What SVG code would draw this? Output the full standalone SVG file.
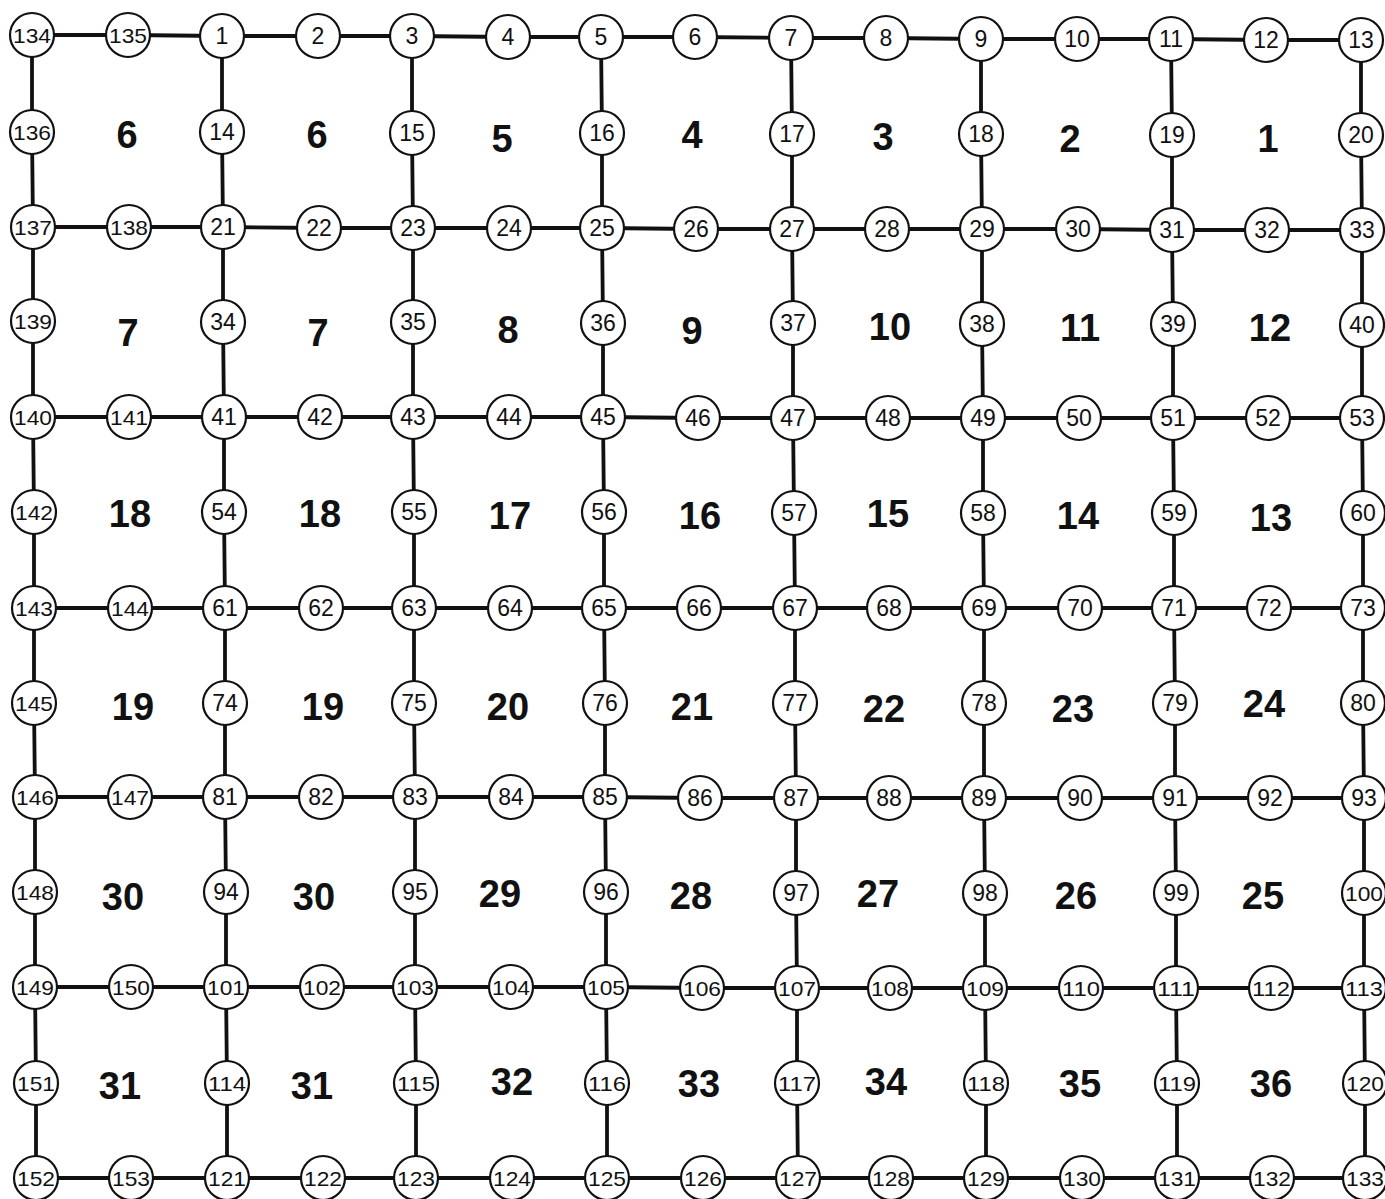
<svg xmlns="http://www.w3.org/2000/svg" width="1385" height="1199" viewBox="0 0 1385 1199">
<style>
.bg{fill:#fff}
.ln{fill:none;stroke:#111;stroke-width:3.8;stroke-linejoin:round}
.nd circle{fill:#fff;stroke:#111;stroke-width:2.2}
.nd text{font-family:"Liberation Sans",Arial,sans-serif;font-size:23px;fill:#111;text-anchor:middle}
.nd text.t3{font-size:21px}
.rg text{font-family:"Liberation Sans",Arial,sans-serif;font-weight:bold;font-size:38px;fill:#111;text-anchor:middle}
</style>
<rect class="bg" x="0" y="0" width="1385" height="1199"/>
<g id="connectors">
<polyline class="ln" points="32,35 128,35 222,36 318,36 412,36 508,37 601,37 695,37 791,38 886,38 981,39 1077,39 1171,39 1266,40 1361,40"/>
<polyline class="ln" points="33,227 129,227 223,227 319,228 413,228 509,228 602,228 696,229 792,229 887,229 982,229 1078,229 1172,230 1267,230 1362,230"/>
<polyline class="ln" points="33,417 129,417 224,417 320,417 413,417 509,417 603,417 698,418 793,418 888,418 983,418 1079,418 1173,418 1268,418 1362,418"/>
<polyline class="ln" points="34,608 130,608 225,608 321,608 414,608 510,608 604,608 699,608 795,608 889,608 984,608 1080,608 1174,608 1269,608 1363,608"/>
<polyline class="ln" points="35,797 130,797 225,797 321,797 415,797 511,797 605,797 700,798 796,798 889,798 984,798 1080,798 1175,798 1270,798 1364,798"/>
<polyline class="ln" points="35,987 131,987 226,987 322,987 415,987 511,987 606,987 702,988 797,988 890,988 985,988 1081,988 1176,988 1271,988 1364,988"/>
<polyline class="ln" points="36,1178 131,1178 227,1178 323,1178 416,1178 512,1178 607,1178 703,1178 798,1178 891,1178 986,1178 1082,1178 1177,1178 1272,1178 1365,1178"/>
<polyline class="ln" points="32,35 32,132 33,227 33,321 33,417 34,512 34,608 34,703 35,797 35,892 35,987 36,1083 36,1178"/>
<polyline class="ln" points="222,36 222,132 223,227 223,322 224,417 224,512 225,608 225,703 225,797 226,892 226,987 227,1083 227,1178"/>
<polyline class="ln" points="412,36 412,133 413,228 413,322 413,417 414,512 414,608 414,703 415,797 415,892 415,987 416,1083 416,1178"/>
<polyline class="ln" points="601,37 602,133 602,228 603,323 603,417 604,512 604,608 605,703 605,797 606,892 606,987 607,1083 607,1178"/>
<polyline class="ln" points="791,38 792,134 792,229 793,323 793,418 794,513 795,608 795,703 796,798 796,893 797,988 797,1083 798,1178"/>
<polyline class="ln" points="981,39 981,134 982,229 982,324 983,418 983,513 984,608 984,703 984,798 985,893 985,988 986,1083 986,1178"/>
<polyline class="ln" points="1171,39 1172,135 1172,230 1173,324 1173,418 1174,513 1174,608 1175,703 1175,798 1176,893 1176,988 1177,1083 1177,1178"/>
<polyline class="ln" points="1361,40 1361,135 1362,230 1362,325 1362,418 1363,513 1363,608 1363,703 1364,798 1364,893 1364,988 1365,1083 1365,1178"/>
</g>
<g class="nd">
<g id="n134"><circle cx="32" cy="35" r="22"/><text class="t3" x="32" y="42.5" textLength="38" lengthAdjust="spacingAndGlyphs">134</text></g>
<g id="n135"><circle cx="128" cy="35" r="22"/><text class="t3" x="128" y="42.5" textLength="38" lengthAdjust="spacingAndGlyphs">135</text></g>
<g id="n1"><circle cx="222" cy="36" r="22"/><text x="222" y="44">1</text></g>
<g id="n2"><circle cx="318" cy="36" r="22"/><text x="318" y="44">2</text></g>
<g id="n3"><circle cx="412" cy="36" r="22"/><text x="412" y="44">3</text></g>
<g id="n4"><circle cx="508" cy="37" r="22"/><text x="508" y="45">4</text></g>
<g id="n5"><circle cx="601" cy="37" r="22"/><text x="601" y="45">5</text></g>
<g id="n6"><circle cx="695" cy="37" r="22"/><text x="695" y="45">6</text></g>
<g id="n7"><circle cx="791" cy="38" r="22"/><text x="791" y="46">7</text></g>
<g id="n8"><circle cx="886" cy="38" r="22"/><text x="886" y="46">8</text></g>
<g id="n9"><circle cx="981" cy="39" r="22"/><text x="981" y="47">9</text></g>
<g id="n10"><circle cx="1077" cy="39" r="22"/><text x="1077" y="47">10</text></g>
<g id="n11"><circle cx="1171" cy="39" r="22"/><text x="1171" y="47">11</text></g>
<g id="n12"><circle cx="1266" cy="40" r="22"/><text x="1266" y="48">12</text></g>
<g id="n13"><circle cx="1361" cy="40" r="22"/><text x="1361" y="48">13</text></g>
<g id="n136"><circle cx="32" cy="132" r="22"/><text class="t3" x="32" y="139.5" textLength="38" lengthAdjust="spacingAndGlyphs">136</text></g>
<g id="n14"><circle cx="222" cy="132" r="22"/><text x="222" y="140">14</text></g>
<g id="n15"><circle cx="412" cy="133" r="22"/><text x="412" y="141">15</text></g>
<g id="n16"><circle cx="602" cy="133" r="22"/><text x="602" y="141">16</text></g>
<g id="n17"><circle cx="792" cy="134" r="22"/><text x="792" y="142">17</text></g>
<g id="n18"><circle cx="981" cy="134" r="22"/><text x="981" y="142">18</text></g>
<g id="n19"><circle cx="1172" cy="135" r="22"/><text x="1172" y="143">19</text></g>
<g id="n20"><circle cx="1361" cy="135" r="22"/><text x="1361" y="143">20</text></g>
<g id="n137"><circle cx="33" cy="227" r="22"/><text class="t3" x="33" y="234.5" textLength="38" lengthAdjust="spacingAndGlyphs">137</text></g>
<g id="n138"><circle cx="129" cy="227" r="22"/><text class="t3" x="129" y="234.5" textLength="38" lengthAdjust="spacingAndGlyphs">138</text></g>
<g id="n21"><circle cx="223" cy="227" r="22"/><text x="223" y="235">21</text></g>
<g id="n22"><circle cx="319" cy="228" r="22"/><text x="319" y="236">22</text></g>
<g id="n23"><circle cx="413" cy="228" r="22"/><text x="413" y="236">23</text></g>
<g id="n24"><circle cx="509" cy="228" r="22"/><text x="509" y="236">24</text></g>
<g id="n25"><circle cx="602" cy="228" r="22"/><text x="602" y="236">25</text></g>
<g id="n26"><circle cx="696" cy="229" r="22"/><text x="696" y="237">26</text></g>
<g id="n27"><circle cx="792" cy="229" r="22"/><text x="792" y="237">27</text></g>
<g id="n28"><circle cx="887" cy="229" r="22"/><text x="887" y="237">28</text></g>
<g id="n29"><circle cx="982" cy="229" r="22"/><text x="982" y="237">29</text></g>
<g id="n30"><circle cx="1078" cy="229" r="22"/><text x="1078" y="237">30</text></g>
<g id="n31"><circle cx="1172" cy="230" r="22"/><text x="1172" y="238">31</text></g>
<g id="n32"><circle cx="1267" cy="230" r="22"/><text x="1267" y="238">32</text></g>
<g id="n33"><circle cx="1362" cy="230" r="22"/><text x="1362" y="238">33</text></g>
<g id="n139"><circle cx="33" cy="321" r="22"/><text class="t3" x="33" y="328.5" textLength="38" lengthAdjust="spacingAndGlyphs">139</text></g>
<g id="n34"><circle cx="223" cy="322" r="22"/><text x="223" y="330">34</text></g>
<g id="n35"><circle cx="413" cy="322" r="22"/><text x="413" y="330">35</text></g>
<g id="n36"><circle cx="603" cy="323" r="22"/><text x="603" y="331">36</text></g>
<g id="n37"><circle cx="793" cy="323" r="22"/><text x="793" y="331">37</text></g>
<g id="n38"><circle cx="982" cy="324" r="22"/><text x="982" y="332">38</text></g>
<g id="n39"><circle cx="1173" cy="324" r="22"/><text x="1173" y="332">39</text></g>
<g id="n40"><circle cx="1362" cy="325" r="22"/><text x="1362" y="333">40</text></g>
<g id="n140"><circle cx="33" cy="417" r="22"/><text class="t3" x="33" y="424.5" textLength="38" lengthAdjust="spacingAndGlyphs">140</text></g>
<g id="n141"><circle cx="129" cy="417" r="22"/><text class="t3" x="129" y="424.5" textLength="38" lengthAdjust="spacingAndGlyphs">141</text></g>
<g id="n41"><circle cx="224" cy="417" r="22"/><text x="224" y="425">41</text></g>
<g id="n42"><circle cx="320" cy="417" r="22"/><text x="320" y="425">42</text></g>
<g id="n43"><circle cx="413" cy="417" r="22"/><text x="413" y="425">43</text></g>
<g id="n44"><circle cx="509" cy="417" r="22"/><text x="509" y="425">44</text></g>
<g id="n45"><circle cx="603" cy="417" r="22"/><text x="603" y="425">45</text></g>
<g id="n46"><circle cx="698" cy="418" r="22"/><text x="698" y="426">46</text></g>
<g id="n47"><circle cx="793" cy="418" r="22"/><text x="793" y="426">47</text></g>
<g id="n48"><circle cx="888" cy="418" r="22"/><text x="888" y="426">48</text></g>
<g id="n49"><circle cx="983" cy="418" r="22"/><text x="983" y="426">49</text></g>
<g id="n50"><circle cx="1079" cy="418" r="22"/><text x="1079" y="426">50</text></g>
<g id="n51"><circle cx="1173" cy="418" r="22"/><text x="1173" y="426">51</text></g>
<g id="n52"><circle cx="1268" cy="418" r="22"/><text x="1268" y="426">52</text></g>
<g id="n53"><circle cx="1362" cy="418" r="22"/><text x="1362" y="426">53</text></g>
<g id="n142"><circle cx="34" cy="512" r="22"/><text class="t3" x="34" y="519.5" textLength="38" lengthAdjust="spacingAndGlyphs">142</text></g>
<g id="n54"><circle cx="224" cy="512" r="22"/><text x="224" y="520">54</text></g>
<g id="n55"><circle cx="414" cy="512" r="22"/><text x="414" y="520">55</text></g>
<g id="n56"><circle cx="604" cy="512" r="22"/><text x="604" y="520">56</text></g>
<g id="n57"><circle cx="794" cy="513" r="22"/><text x="794" y="521">57</text></g>
<g id="n58"><circle cx="983" cy="513" r="22"/><text x="983" y="521">58</text></g>
<g id="n59"><circle cx="1174" cy="513" r="22"/><text x="1174" y="521">59</text></g>
<g id="n60"><circle cx="1363" cy="513" r="22"/><text x="1363" y="521">60</text></g>
<g id="n143"><circle cx="34" cy="608" r="22"/><text class="t3" x="34" y="615.5" textLength="38" lengthAdjust="spacingAndGlyphs">143</text></g>
<g id="n144"><circle cx="130" cy="608" r="22"/><text class="t3" x="130" y="615.5" textLength="38" lengthAdjust="spacingAndGlyphs">144</text></g>
<g id="n61"><circle cx="225" cy="608" r="22"/><text x="225" y="616">61</text></g>
<g id="n62"><circle cx="321" cy="608" r="22"/><text x="321" y="616">62</text></g>
<g id="n63"><circle cx="414" cy="608" r="22"/><text x="414" y="616">63</text></g>
<g id="n64"><circle cx="510" cy="608" r="22"/><text x="510" y="616">64</text></g>
<g id="n65"><circle cx="604" cy="608" r="22"/><text x="604" y="616">65</text></g>
<g id="n66"><circle cx="699" cy="608" r="22"/><text x="699" y="616">66</text></g>
<g id="n67"><circle cx="795" cy="608" r="22"/><text x="795" y="616">67</text></g>
<g id="n68"><circle cx="889" cy="608" r="22"/><text x="889" y="616">68</text></g>
<g id="n69"><circle cx="984" cy="608" r="22"/><text x="984" y="616">69</text></g>
<g id="n70"><circle cx="1080" cy="608" r="22"/><text x="1080" y="616">70</text></g>
<g id="n71"><circle cx="1174" cy="608" r="22"/><text x="1174" y="616">71</text></g>
<g id="n72"><circle cx="1269" cy="608" r="22"/><text x="1269" y="616">72</text></g>
<g id="n73"><circle cx="1363" cy="608" r="22"/><text x="1363" y="616">73</text></g>
<g id="n145"><circle cx="34" cy="703" r="22"/><text class="t3" x="34" y="710.5" textLength="38" lengthAdjust="spacingAndGlyphs">145</text></g>
<g id="n74"><circle cx="225" cy="703" r="22"/><text x="225" y="711">74</text></g>
<g id="n75"><circle cx="414" cy="703" r="22"/><text x="414" y="711">75</text></g>
<g id="n76"><circle cx="605" cy="703" r="22"/><text x="605" y="711">76</text></g>
<g id="n77"><circle cx="795" cy="703" r="22"/><text x="795" y="711">77</text></g>
<g id="n78"><circle cx="984" cy="703" r="22"/><text x="984" y="711">78</text></g>
<g id="n79"><circle cx="1175" cy="703" r="22"/><text x="1175" y="711">79</text></g>
<g id="n80"><circle cx="1363" cy="703" r="22"/><text x="1363" y="711">80</text></g>
<g id="n146"><circle cx="35" cy="797" r="22"/><text class="t3" x="35" y="804.5" textLength="38" lengthAdjust="spacingAndGlyphs">146</text></g>
<g id="n147"><circle cx="130" cy="797" r="22"/><text class="t3" x="130" y="804.5" textLength="38" lengthAdjust="spacingAndGlyphs">147</text></g>
<g id="n81"><circle cx="225" cy="797" r="22"/><text x="225" y="805">81</text></g>
<g id="n82"><circle cx="321" cy="797" r="22"/><text x="321" y="805">82</text></g>
<g id="n83"><circle cx="415" cy="797" r="22"/><text x="415" y="805">83</text></g>
<g id="n84"><circle cx="511" cy="797" r="22"/><text x="511" y="805">84</text></g>
<g id="n85"><circle cx="605" cy="797" r="22"/><text x="605" y="805">85</text></g>
<g id="n86"><circle cx="700" cy="798" r="22"/><text x="700" y="806">86</text></g>
<g id="n87"><circle cx="796" cy="798" r="22"/><text x="796" y="806">87</text></g>
<g id="n88"><circle cx="889" cy="798" r="22"/><text x="889" y="806">88</text></g>
<g id="n89"><circle cx="984" cy="798" r="22"/><text x="984" y="806">89</text></g>
<g id="n90"><circle cx="1080" cy="798" r="22"/><text x="1080" y="806">90</text></g>
<g id="n91"><circle cx="1175" cy="798" r="22"/><text x="1175" y="806">91</text></g>
<g id="n92"><circle cx="1270" cy="798" r="22"/><text x="1270" y="806">92</text></g>
<g id="n93"><circle cx="1364" cy="798" r="22"/><text x="1364" y="806">93</text></g>
<g id="n148"><circle cx="35" cy="892" r="22"/><text class="t3" x="35" y="899.5" textLength="38" lengthAdjust="spacingAndGlyphs">148</text></g>
<g id="n94"><circle cx="226" cy="892" r="22"/><text x="226" y="900">94</text></g>
<g id="n95"><circle cx="415" cy="892" r="22"/><text x="415" y="900">95</text></g>
<g id="n96"><circle cx="606" cy="892" r="22"/><text x="606" y="900">96</text></g>
<g id="n97"><circle cx="796" cy="893" r="22"/><text x="796" y="901">97</text></g>
<g id="n98"><circle cx="985" cy="893" r="22"/><text x="985" y="901">98</text></g>
<g id="n99"><circle cx="1176" cy="893" r="22"/><text x="1176" y="901">99</text></g>
<g id="n100"><circle cx="1364" cy="893" r="22"/><text class="t3" x="1364" y="900.5" textLength="38" lengthAdjust="spacingAndGlyphs">100</text></g>
<g id="n149"><circle cx="35" cy="987" r="22"/><text class="t3" x="35" y="994.5" textLength="38" lengthAdjust="spacingAndGlyphs">149</text></g>
<g id="n150"><circle cx="131" cy="987" r="22"/><text class="t3" x="131" y="994.5" textLength="38" lengthAdjust="spacingAndGlyphs">150</text></g>
<g id="n101"><circle cx="226" cy="987" r="22"/><text class="t3" x="226" y="994.5" textLength="38" lengthAdjust="spacingAndGlyphs">101</text></g>
<g id="n102"><circle cx="322" cy="987" r="22"/><text class="t3" x="322" y="994.5" textLength="38" lengthAdjust="spacingAndGlyphs">102</text></g>
<g id="n103"><circle cx="415" cy="987" r="22"/><text class="t3" x="415" y="994.5" textLength="38" lengthAdjust="spacingAndGlyphs">103</text></g>
<g id="n104"><circle cx="511" cy="987" r="22"/><text class="t3" x="511" y="994.5" textLength="38" lengthAdjust="spacingAndGlyphs">104</text></g>
<g id="n105"><circle cx="606" cy="987" r="22"/><text class="t3" x="606" y="994.5" textLength="38" lengthAdjust="spacingAndGlyphs">105</text></g>
<g id="n106"><circle cx="702" cy="988" r="22"/><text class="t3" x="702" y="995.5" textLength="38" lengthAdjust="spacingAndGlyphs">106</text></g>
<g id="n107"><circle cx="797" cy="988" r="22"/><text class="t3" x="797" y="995.5" textLength="38" lengthAdjust="spacingAndGlyphs">107</text></g>
<g id="n108"><circle cx="890" cy="988" r="22"/><text class="t3" x="890" y="995.5" textLength="38" lengthAdjust="spacingAndGlyphs">108</text></g>
<g id="n109"><circle cx="985" cy="988" r="22"/><text class="t3" x="985" y="995.5" textLength="38" lengthAdjust="spacingAndGlyphs">109</text></g>
<g id="n110"><circle cx="1081" cy="988" r="22"/><text class="t3" x="1081" y="995.5" textLength="38" lengthAdjust="spacingAndGlyphs">110</text></g>
<g id="n111"><circle cx="1176" cy="988" r="22"/><text class="t3" x="1176" y="995.5" textLength="38" lengthAdjust="spacingAndGlyphs">111</text></g>
<g id="n112"><circle cx="1271" cy="988" r="22"/><text class="t3" x="1271" y="995.5" textLength="38" lengthAdjust="spacingAndGlyphs">112</text></g>
<g id="n113"><circle cx="1364" cy="988" r="22"/><text class="t3" x="1364" y="995.5" textLength="38" lengthAdjust="spacingAndGlyphs">113</text></g>
<g id="n151"><circle cx="36" cy="1083" r="22"/><text class="t3" x="36" y="1090.5" textLength="38" lengthAdjust="spacingAndGlyphs">151</text></g>
<g id="n114"><circle cx="227" cy="1083" r="22"/><text class="t3" x="227" y="1090.5" textLength="38" lengthAdjust="spacingAndGlyphs">114</text></g>
<g id="n115"><circle cx="416" cy="1083" r="22"/><text class="t3" x="416" y="1090.5" textLength="38" lengthAdjust="spacingAndGlyphs">115</text></g>
<g id="n116"><circle cx="607" cy="1083" r="22"/><text class="t3" x="607" y="1090.5" textLength="38" lengthAdjust="spacingAndGlyphs">116</text></g>
<g id="n117"><circle cx="797" cy="1083" r="22"/><text class="t3" x="797" y="1090.5" textLength="38" lengthAdjust="spacingAndGlyphs">117</text></g>
<g id="n118"><circle cx="986" cy="1083" r="22"/><text class="t3" x="986" y="1090.5" textLength="38" lengthAdjust="spacingAndGlyphs">118</text></g>
<g id="n119"><circle cx="1177" cy="1083" r="22"/><text class="t3" x="1177" y="1090.5" textLength="38" lengthAdjust="spacingAndGlyphs">119</text></g>
<g id="n120"><circle cx="1365" cy="1083" r="22"/><text class="t3" x="1365" y="1090.5" textLength="38" lengthAdjust="spacingAndGlyphs">120</text></g>
<g id="n152"><circle cx="36" cy="1178" r="22"/><text class="t3" x="36" y="1185.5" textLength="38" lengthAdjust="spacingAndGlyphs">152</text></g>
<g id="n153"><circle cx="131" cy="1178" r="22"/><text class="t3" x="131" y="1185.5" textLength="38" lengthAdjust="spacingAndGlyphs">153</text></g>
<g id="n121"><circle cx="227" cy="1178" r="22"/><text class="t3" x="227" y="1185.5" textLength="38" lengthAdjust="spacingAndGlyphs">121</text></g>
<g id="n122"><circle cx="323" cy="1178" r="22"/><text class="t3" x="323" y="1185.5" textLength="38" lengthAdjust="spacingAndGlyphs">122</text></g>
<g id="n123"><circle cx="416" cy="1178" r="22"/><text class="t3" x="416" y="1185.5" textLength="38" lengthAdjust="spacingAndGlyphs">123</text></g>
<g id="n124"><circle cx="512" cy="1178" r="22"/><text class="t3" x="512" y="1185.5" textLength="38" lengthAdjust="spacingAndGlyphs">124</text></g>
<g id="n125"><circle cx="607" cy="1178" r="22"/><text class="t3" x="607" y="1185.5" textLength="38" lengthAdjust="spacingAndGlyphs">125</text></g>
<g id="n126"><circle cx="703" cy="1178" r="22"/><text class="t3" x="703" y="1185.5" textLength="38" lengthAdjust="spacingAndGlyphs">126</text></g>
<g id="n127"><circle cx="798" cy="1178" r="22"/><text class="t3" x="798" y="1185.5" textLength="38" lengthAdjust="spacingAndGlyphs">127</text></g>
<g id="n128"><circle cx="891" cy="1178" r="22"/><text class="t3" x="891" y="1185.5" textLength="38" lengthAdjust="spacingAndGlyphs">128</text></g>
<g id="n129"><circle cx="986" cy="1178" r="22"/><text class="t3" x="986" y="1185.5" textLength="38" lengthAdjust="spacingAndGlyphs">129</text></g>
<g id="n130"><circle cx="1082" cy="1178" r="22"/><text class="t3" x="1082" y="1185.5" textLength="38" lengthAdjust="spacingAndGlyphs">130</text></g>
<g id="n131"><circle cx="1177" cy="1178" r="22"/><text class="t3" x="1177" y="1185.5" textLength="38" lengthAdjust="spacingAndGlyphs">131</text></g>
<g id="n132"><circle cx="1272" cy="1178" r="22"/><text class="t3" x="1272" y="1185.5" textLength="38" lengthAdjust="spacingAndGlyphs">132</text></g>
<g id="n133"><circle cx="1365" cy="1178" r="22"/><text class="t3" x="1365" y="1185.5" textLength="38" lengthAdjust="spacingAndGlyphs">133</text></g>
</g>
<g class="rg" id="regions">
<text x="127" y="148">6</text><text x="317" y="148">6</text><text x="502" y="152">5</text><text x="692" y="148">4</text><text x="883" y="150">3</text><text x="1070" y="152">2</text><text x="1268" y="152">1</text>
<text x="128" y="346">7</text><text x="318" y="346">7</text><text x="508" y="343">8</text><text x="692" y="344">9</text><text x="890" y="340">10</text><text x="1080" y="341">11</text><text x="1270" y="341">12</text>
<text x="130" y="527">18</text><text x="320" y="527">18</text><text x="510" y="529">17</text><text x="700" y="529">16</text><text x="888" y="527">15</text><text x="1078" y="529">14</text><text x="1271" y="531">13</text>
<text x="133" y="720">19</text><text x="323" y="720">19</text><text x="508" y="720">20</text><text x="692" y="720">21</text><text x="884" y="722">22</text><text x="1073" y="722">23</text><text x="1264" y="717">24</text>
<text x="123" y="910">30</text><text x="314" y="910">30</text><text x="500" y="907">29</text><text x="691" y="909">28</text><text x="878" y="907">27</text><text x="1076" y="909">26</text><text x="1263" y="909">25</text>
<text x="120" y="1099">31</text><text x="312" y="1099">31</text><text x="512" y="1095">32</text><text x="699" y="1097">33</text><text x="886" y="1095">34</text><text x="1080" y="1097">35</text><text x="1271" y="1097">36</text>
</g>
</svg>
